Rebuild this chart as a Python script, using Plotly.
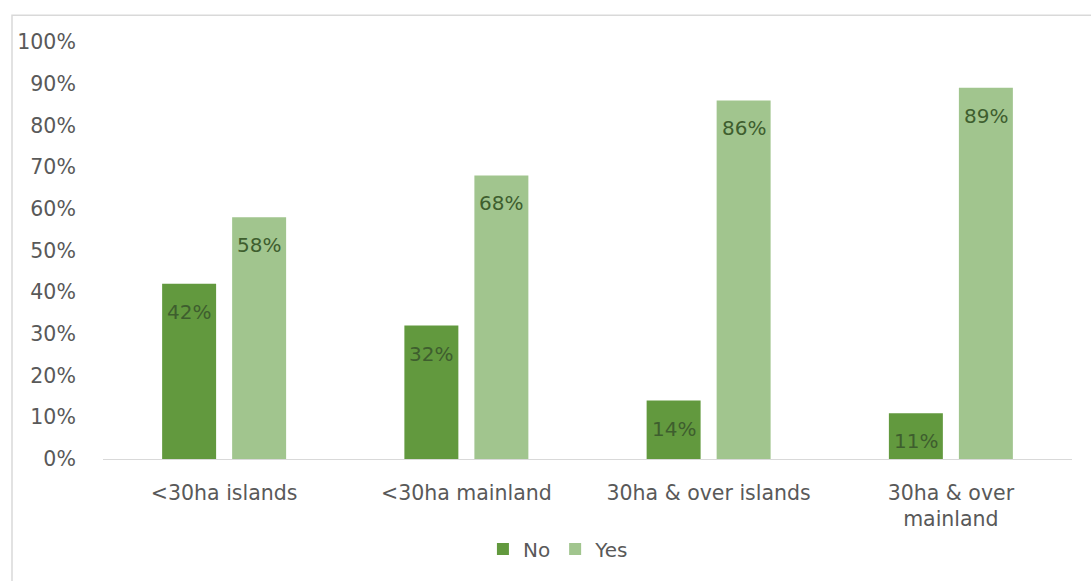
import plotly.graph_objects as go

categories = ["<30ha islands", "<30ha mainland", "30ha & over islands", "30ha & over<br>mainland"]
no_values = [42, 32, 14, 11]
yes_values = [58, 68, 86, 89]
y_ticks = [0, 10, 20, 30, 40, 50, 60, 70, 80, 90, 100]
y_tick_labels = [f"{v}%" for v in y_ticks]

NO_COLOR = "#62993e"
YES_COLOR = "#a1c58e"
LABEL_COLOR = "#3e5e2e"
TICK_COLOR = "#595959"
FONT = "DejaVu Sans"

fig = go.Figure()
fig.add_trace(go.Bar(name="No", x=categories, y=no_values, marker_color=NO_COLOR, marker_line_width=0))
fig.add_trace(go.Bar(name="Yes", x=categories, y=yes_values, marker_color=YES_COLOR, marker_line_width=0))

annotations = []
for cat, v in zip(categories, no_values):
    annotations.append(dict(x=cat, y=v, xref="x", yref="y", text=f"{v}%", showarrow=False,
                            xshift=-35, yshift=-28, font=dict(family=FONT, size=20, color=LABEL_COLOR)))
for cat, v in zip(categories, yes_values):
    annotations.append(dict(x=cat, y=v, xref="x", yref="y", text=f"{v}%", showarrow=False,
                            xshift=35, yshift=-28, font=dict(family=FONT, size=20, color=LABEL_COLOR)))

fig.update_layout(
    width=1091, height=581,
    margin=dict(l=103, r=19, t=42, b=118),
    paper_bgcolor="white", plot_bgcolor="white",
    barmode="group", bargap=0.422, bargroupgap=0.229,
    font=dict(family=FONT, size=20, color=TICK_COLOR),
    annotations=annotations,
    legend=dict(orientation="h", x=0.47, xanchor="center", y=-0.216, yanchor="middle",
                font=dict(family=FONT, size=20, color=TICK_COLOR), itemwidth=30),
    shapes=[dict(type="rect", xref="paper", yref="paper", x0=-0.0939, x1=1.2, y0=-0.4, y1=1.0641,
                 line=dict(color="#d9d9d9", width=1.5), fillcolor="rgba(0,0,0,0)", layer="below")],
)
fig.update_xaxes(showgrid=False, showline=True, linecolor="#d9d9d9", linewidth=1,
                 ticks="outside", ticklen=15, tickcolor="rgba(0,0,0,0)",
                 tickfont=dict(family=FONT, size=20.5, color=TICK_COLOR))
fig.update_yaxes(range=[0, 100], tickvals=y_ticks, ticktext=y_tick_labels,
                 showgrid=False, zeroline=False, showline=False,
                 ticks="outside", ticklen=22, tickcolor="rgba(0,0,0,0)",
                 tickfont=dict(family=FONT, size=20.5, color=TICK_COLOR))

fig.write_html("out.html")
